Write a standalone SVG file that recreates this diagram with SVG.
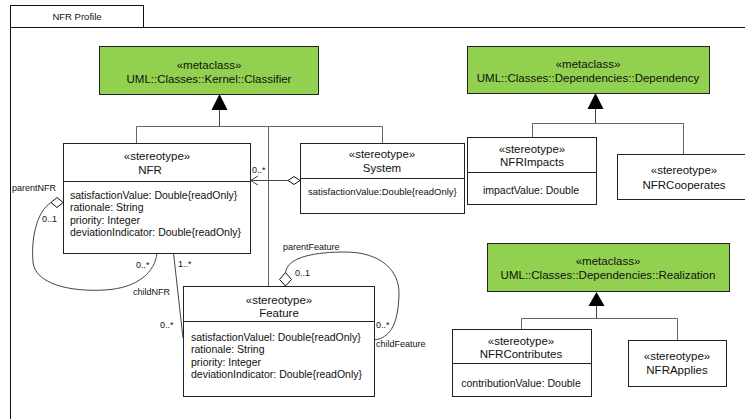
<svg xmlns="http://www.w3.org/2000/svg" width="745" height="419" viewBox="0 0 745 419">
<style>
text{font-family:"Liberation Sans",Arial,sans-serif;fill:#111}
.meta{fill:#92d050;stroke:#222;stroke-width:1}
.box{fill:#fff;stroke:#222;stroke-width:1}
.div{stroke:#222;stroke-width:1}
.hd{font-size:11.5px;text-anchor:middle}
.at{font-size:10.5px}
.ats{font-size:9.5px}
.lb{font-size:9px}
.ln{fill:none;stroke:#444;stroke-width:1}
.gen{fill:none;stroke:#666;stroke-width:1}
.tri{fill:#000;stroke:none}
.dia{fill:#fff;stroke:#111;stroke-width:1}
</style>
<rect width="745" height="419" fill="#fff"/>
<g id="frame">
  <rect x="10.5" y="5.5" width="133" height="22" fill="#fff" stroke="#111"/>
  <path d="M10.5,27.5 H745 M10.5,27.5 V419" fill="none" stroke="#111"/>
  <text x="77" y="20" font-size="9.5" text-anchor="middle">NFR Profile</text>
</g>
<g id="connectors">
  <!-- Classifier generalization tree -->
  <path class="ln" d="M219.5,108 V126.5"/>
  <path class="gen" d="M136.5,143 V126.5 H382.5 V143 M268.5,126.5 V286"/>
  <polygon class="tri" points="219.5,94 227.5,110 211.5,110"/>
  <!-- Dependency tree -->
  <path class="ln" d="M595.5,107 V123.5"/>
  <path class="gen" d="M532.5,137 V123.5 H683.5 V154"/>
  <polygon class="tri" points="595.5,93 603.5,109 587.5,109"/>
  <!-- Realization tree -->
  <path class="ln" d="M596.5,304 V318.5"/>
  <path class="gen" d="M521.5,329 V318.5 H677.5 V340"/>
  <polygon class="tri" points="596.5,292 604.5,306 588.5,306"/>
  <!-- System -> NFR -->
  <path class="ln" d="M288,180.5 H250.5"/>
  <path class="ln" d="M258,176 L250.5,180.5 L258,185"/>
  <polygon class="dia" points="300,180.5 294,176.5 288,180.5 294,184.5"/>
  <text class="lb" x="252" y="173">0..*</text>
  <!-- NFR - Feature -->
  <path class="ln" d="M173.5,253 L183,338"/>
  <text class="lb" x="178" y="267">1..*</text>
  <text class="lb" x="160" y="328">0..*</text>
  <!-- NFR self association -->
  <path class="ln" d="M51,202.5 C36,212 31,240 33,262 C35,284 70,292 105,290 C138,288 155,272 157,253"/>
  <polygon class="dia" points="63,202.5 57,197.5 51,202.5 57,207.5"/>
  <text class="lb" x="12" y="191">parentNFR</text>
  <text class="lb" x="42" y="222">0..1</text>
  <text class="lb" x="136" y="268">0..*</text>
  <text class="lb" x="133" y="295">childNFR</text>
  <!-- Feature self association -->
  <path class="ln" d="M285.5,273 C287,256 318,252 345,252 C380,252 400,270 399,295 C398,325 390,338 374,340"/>
  <polygon class="dia" points="285.5,272.5 291.5,279.5 285.5,286 279.5,279.5"/>
  <text class="lb" x="283" y="250">parentFeature</text>
  <text class="lb" x="295" y="276">0..1</text>
  <text class="lb" x="376" y="328">0..*</text>
  <text class="lb" x="376" y="347">childFeature</text>
</g>
<g id="classifier">
  <rect class="meta" x="99.5" y="46.5" width="219" height="48"/>
  <text class="hd" x="209" y="69">«metaclass»</text>
  <text class="hd" x="209" y="83">UML::Classes::Kernel::Classifier</text>
</g>
<g id="dependency">
  <rect class="meta" x="467.5" y="46.5" width="242" height="47"/>
  <text class="hd" x="588" y="68">«metaclass»</text>
  <text class="hd" x="588" y="82">UML::Classes::Dependencies::Dependency</text>
</g>
<g id="realization">
  <rect class="meta" x="487.5" y="243.5" width="242" height="48"/>
  <text class="hd" x="608" y="265">«metaclass»</text>
  <text class="hd" x="608" y="279">UML::Classes::Dependencies::Realization</text>
</g>
<g id="nfr">
  <rect class="box" x="63.5" y="143.5" width="187" height="110"/>
  <line class="div" x1="63.5" y1="181.5" x2="250.5" y2="181.5"/>
  <text class="hd" x="157" y="160">«stereotype»</text>
  <text class="hd" x="150" y="174">NFR</text>
  <text class="at" x="70" y="199">satisfactionValue: Double{readOnly}</text>
  <text class="at" x="70" y="211">rationale: String</text>
  <text class="at" x="70" y="224">priority: Integer</text>
  <text class="at" x="70" y="236">deviationIndicator: Double{readOnly}</text>
</g>
<g id="system">
  <rect class="box" x="300.5" y="143.5" width="164" height="70"/>
  <line class="div" x1="300.5" y1="178.5" x2="464.5" y2="178.5"/>
  <text class="hd" x="382" y="158">«stereotype»</text>
  <text class="hd" x="382" y="172">System</text>
  <text class="ats" x="308" y="195">satisfactionValue:Double{readOnly}</text>
</g>
<g id="feature">
  <rect class="box" x="183.5" y="286.5" width="191" height="110"/>
  <line class="div" x1="183.5" y1="321.5" x2="374.5" y2="321.5"/>
  <text class="hd" x="279" y="304">«stereotype»</text>
  <text class="hd" x="279" y="317">Feature</text>
  <text class="at" x="191" y="341">satisfactionValuel: Double{readOnly}</text>
  <text class="at" x="191" y="353">rationale: String</text>
  <text class="at" x="191" y="366">priority: Integer</text>
  <text class="at" x="191" y="378">deviationIndicator: Double{readOnly}</text>
</g>
<g id="nfrimpacts">
  <rect class="box" x="467.5" y="137.5" width="129" height="67"/>
  <line class="div" x1="467.5" y1="172.5" x2="596.5" y2="172.5"/>
  <text class="hd" x="532" y="153">«stereotype»</text>
  <text class="hd" x="532" y="166">NFRImpacts</text>
  <text class="at" x="531" y="194" text-anchor="middle" fill="#333">impactValue: Double</text>
</g>
<g id="nfrcooperates">
  <rect class="box" x="617.5" y="154.5" width="133" height="45"/>
  <text class="hd" x="684" y="174">«stereotype»</text>
  <text class="hd" x="684" y="189">NFRCooperates</text>
</g>
<g id="nfrcontributes">
  <rect class="box" x="452.5" y="329.5" width="139" height="67"/>
  <line class="div" x1="452.5" y1="363.5" x2="591.5" y2="363.5"/>
  <text class="hd" x="521" y="345">«stereotype»</text>
  <text class="hd" x="521" y="358">NFRContributes</text>
  <text class="at" x="521" y="387" text-anchor="middle">contributionValue: Double</text>
</g>
<g id="nfrapplies">
  <rect class="box" x="628.5" y="340.5" width="98" height="46"/>
  <text class="hd" x="677" y="360">«stereotype»</text>
  <text class="hd" x="677" y="374">NFRApplies</text>
</g>
</svg>
